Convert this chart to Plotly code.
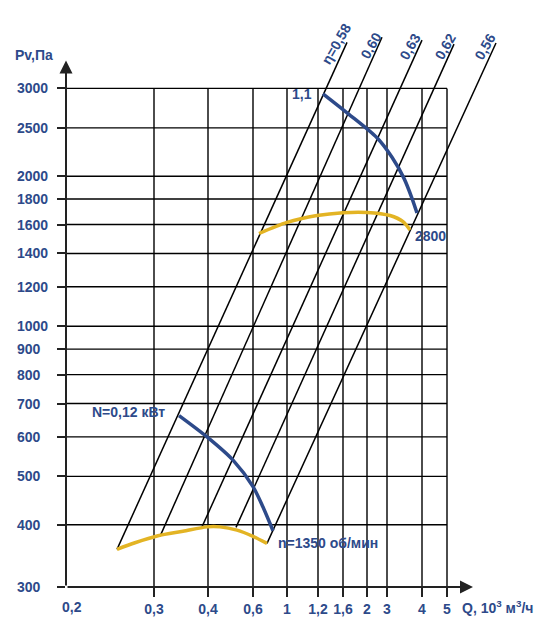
import numpy as np
import plotly.graph_objects as go

# x axis of the original sheet is not a true log scale, so points are kept
# in axis divisions (0 = 0,2 at the origin) and the Q values are only tick labels
X_TICK_POS = [88, 142, 187, 221, 252, 277, 301, 321, 356, 381]
X_TICK_TEXT = ["0,3", "0,4", "0,6", "1", "1,2", "1,6", "2", "3", "4", "5"]

P_TICKS = [300, 400, 500, 600, 700, 800, 900, 1000, 1200, 1400, 1600, 1800, 2000, 2500, 3000]

# efficiency lines
ETA_TEXT = ["η=0,58", "0,60", "0,63", "0,62", "0,56"]
ETA_X_LOW = [51, 94, 136, 170, 201]
ETA_P_LOW = [357, 379, 396, 395, 367]
ETA_X_HIGH = [281, 316, 356, 388, 430]
ETA_P_HIGH = [3710, 3800, 3750, 3680, 3700]
ETA_LABEL_X = [270, 305, 344, 379, 419]
ETA_LABEL_P = [3688, 3642, 3626, 3630, 3626]

# n = 1350 rpm
PV_LOW_X = [51, 69, 92, 117, 141, 154, 171, 187, 201]
PV_LOW_P = [357, 368, 380, 388, 396, 396, 390, 379, 367]
N_LOW_X = [113, 141, 167, 187, 197, 207]
N_LOW_P = [662, 600, 539, 477, 434, 389]

# n = 2800 rpm
PV_HIGH_X = [193, 221, 251, 277, 301, 324, 337, 344]
PV_HIGH_P = [1535, 1616, 1668, 1690, 1692, 1668, 1621, 1560]
N_HIGH_X = [257, 282, 311, 326, 338, 346, 351]
N_HIGH_P = [2926, 2671, 2388, 2182, 1980, 1806, 1687]

BLUE = "#2d4a8a"
GOLD = "#e3b424"
TXT = dict(family="Arial, Liberation Sans, sans-serif", size=14, color=BLUE, weight="bold")

fig = go.Figure()

# grid only inside 0,2..5 and 300..3000
gx, gy = [], []
for p in P_TICKS[1:]:
    gx += [0, X_TICK_POS[-1], None]
    gy += [p, p, None]
for x in X_TICK_POS:
    gx += [x, x, None]
    gy += [P_TICKS[0], P_TICKS[-1], None]
fig.add_trace(go.Scatter(x=gx, y=gy, mode="lines",
                         line=dict(color="black", width=1.4), hoverinfo="skip"))

for i in range(len(ETA_TEXT)):
    fig.add_trace(go.Scatter(
        x=[ETA_X_LOW[i], ETA_X_HIGH[i]],
        y=[ETA_P_LOW[i], ETA_P_HIGH[i]],
        mode="lines", line=dict(color="black", width=1.5),
        name=ETA_TEXT[i]))
    fig.add_annotation(x=ETA_LABEL_X[i], y=np.log10(ETA_LABEL_P[i]),
                       text=ETA_TEXT[i], showarrow=False, textangle=-60,
                       xanchor="center", yanchor="middle", font=TXT)

for xs, ps, col in [(PV_LOW_X, PV_LOW_P, GOLD), (N_LOW_X, N_LOW_P, BLUE),
                    (PV_HIGH_X, PV_HIGH_P, GOLD), (N_HIGH_X, N_HIGH_P, BLUE)]:
    fig.add_trace(go.Scatter(x=xs, y=ps, mode="lines",
                             line=dict(color=col, width=3.5, shape="spline",
                                       smoothing=0.8)))

# axes with arrows
p0 = np.log10(P_TICKS[0])
fig.add_annotation(x=407, y=p0, ax=0, ay=p0, axref="x", ayref="y", text="",
                   showarrow=True, arrowhead=2, arrowsize=1.3, arrowwidth=2,
                   arrowcolor="#222222")
fig.add_annotation(x=0, y=3.533, ax=0, ay=p0, axref="x", ayref="y", text="",
                   showarrow=True, arrowhead=2, arrowsize=1.3, arrowwidth=2,
                   arrowcolor="#222222")

# y tick labels (left aligned on the original)
for p in P_TICKS:
    fig.add_annotation(x=-0.116, xref="paper", y=np.log10(p), text=str(p),
                       showarrow=False, xanchor="left", yanchor="middle", font=TXT)

fig.add_annotation(x=6, y=p0, text="0,2", showarrow=False, xanchor="center",
                   yanchor="top", yshift=-10, font=TXT)
fig.add_annotation(x=394, y=p0, text="Q, 10<sup>3</sup> м<sup>3</sup>/ч", showarrow=False,
                   xanchor="left", yanchor="top", yshift=-9, font=TXT)
fig.add_annotation(x=-0.12, xref="paper", y=3.5445, text="Pv,Па", showarrow=False,
                   xanchor="left", yanchor="middle", font=TXT)

fig.add_annotation(x=248, y=np.log10(2926), text="1,1", showarrow=False,
                   xanchor="right", yanchor="middle", font=TXT)
fig.add_annotation(x=101, y=np.log10(673), text="N=0,12 кВт", showarrow=False,
                   xanchor="right", yanchor="middle", font=TXT)
fig.add_annotation(x=347, y=np.log10(1515), text="2800", showarrow=False,
                   xanchor="left", yanchor="middle", font=TXT)
fig.add_annotation(x=210, y=np.log10(368), text="n=1350 об/мин", showarrow=False,
                   xanchor="left", yanchor="middle", font=TXT)

# the page adds an 8px body margin, so the figure is 8px smaller than the window
fig.update_layout(
    width=538,
    height=625,
    margin=dict(l=58, r=40, t=22, b=46),
    showlegend=False,
    plot_bgcolor="white",
    paper_bgcolor="white",
    xaxis=dict(
        range=[0, 440],
        tickvals=X_TICK_POS,
        ticktext=X_TICK_TEXT,
        ticks="outside",
        ticklen=9,
        tickwidth=2,
        tickcolor="#222222",
        tickfont=TXT,
        showgrid=False,
        zeroline=False,
        showline=False,
    ),
    yaxis=dict(
        type="log",
        range=[np.log10(300), np.log10(300) + 557 / 498.6],
        tickvals=P_TICKS,
        showticklabels=False,
        ticks="outside",
        ticklen=8,
        tickwidth=1.5,
        tickcolor="#222222",
        showgrid=False,
        zeroline=False,
        showline=False,
    ),
)

fig.write_html("out.html")
